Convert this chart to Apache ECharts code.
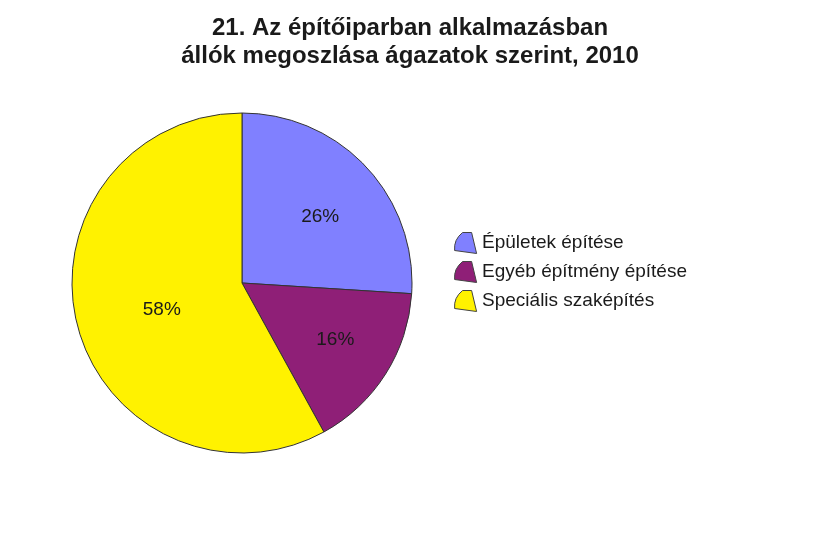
<!DOCTYPE html>
<html>
<head>
<meta charset="utf-8">
<script src="https://cdn.jsdelivr.net/npm/echarts@6/dist/echarts.min.js"></script>
<style>
  html, body { margin: 0; padding: 0; background: #fff; }
  #main { width: 820px; height: 540px; }
</style>
</head>
<body>
<div id="main"></div>
<script>
const chartDom = document.getElementById('main');
const myChart = echarts.init(chartDom);

// ágazatok
let sectors = ['Épületek építése', 'Egyéb építmény építése', 'Speciális szaképítés'];
// megoszlás, %
let shares = [26, 16, 58];
let colors = ['#8080ff', '#8f1f77', '#fff200'];

const font = '"Liberation Sans Narrow", "Arial Narrow", "Liberation Sans", sans-serif';
// kis körcikk alakú jelölő a jelmagyarázathoz
const wedge = 'path://M9,0 L18,0 L23,21 L1,18 Q0,7 9,0 Z';

// az Excel a címkéket nem pontosan a sugár felénél teszi le
let labelOffsets = [[14, -6], [19, 10], [5, 5]];

let option = {
    backgroundColor: '#fff',
    title: {
        text: '21. Az építőiparban alkalmazásban\nállók megoszlása ágazatok szerint, 2010',
        left: 'center',
        top: 9,
        textStyle: {
            fontFamily: font,
            fontWeight: 'bold',
            fontSize: 24,
            lineHeight: 28,
            color: '#1a1a1a'
        }
    },
    legend: {
        orient: 'vertical',
        left: 449,
        top: 227,
        itemWidth: 23,
        itemHeight: 21,
        itemGap: 7,
        icon: wedge,
        itemStyle: { borderColor: '#444', borderWidth: 1 },
        textStyle: {
            fontFamily: font,
            fontSize: 19,
            color: '#1a1a1a'
        },
        data: sectors
    },
    series: [
        {
            type: 'pie',
            center: [242, 283],
            radius: 170,
            startAngle: 90,
            clockwise: true,
            animation: false,
            itemStyle: {
                borderColor: '#333',
                borderWidth: 1
            },
            label: {
                position: 'inside',
                formatter: '{c}%',
                fontFamily: font,
                fontSize: 19,
                color: '#1a1a1a'
            },
            labelLine: { show: false },
            emphasis: { scale: false },
            data: sectors.map((name, i) => ({
                name: name,
                value: shares[i],
                itemStyle: { color: colors[i] },
                label: { offset: labelOffsets[i] }
            }))
        }
    ]
};

myChart.setOption(option);
</script>
</body>
</html>
